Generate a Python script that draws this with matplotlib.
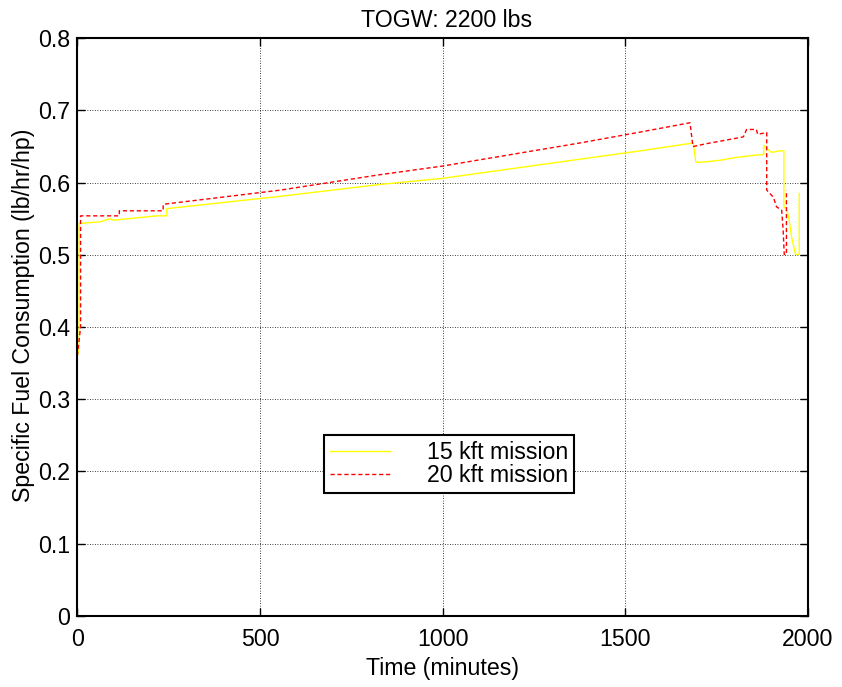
import matplotlib
matplotlib.use("Agg")
import matplotlib.pyplot as plt

plt.rcParams['font.family'] = ['Liberation Sans', 'DejaVu Sans']

# breakpoints (time in minutes, sfc in lb/hr/hp)
t15 = [0, 5, 5, 62, 89, 99, 217, 245, 245, 555, 828, 1000, 1376, 1540, 1686,
       1693, 1722, 1759, 1805, 1855, 1879, 1879, 1887, 1900, 1923, 1934,
       1934, 1941, 1948, 1955, 1961, 1966, 1976, 1976]
sfc15 = [0.36, 0.37, 0.5435, 0.5457, 0.550, 0.548, 0.554, 0.554, 0.564, 0.581,
         0.5975, 0.606, 0.6325, 0.644, 0.655, 0.628, 0.629, 0.631, 0.635,
         0.638, 0.639, 0.652, 0.647, 0.642, 0.644, 0.644, 0.566, 0.564,
         0.550, 0.525, 0.511, 0.5005, 0.5005, 0.585]

t20 = [0, 3, 9, 9, 115, 115, 235, 235, 555, 828, 1000, 1376, 1540, 1677,
       1685, 1722, 1823, 1832, 1859, 1862, 1873, 1887, 1887, 1905, 1914,
       1928, 1932, 1935, 1941, 1941]
sfc20 = [0.36, 0.373, 0.40, 0.554, 0.554, 0.561, 0.561, 0.570, 0.5896, 0.611,
         0.623, 0.655, 0.670, 0.683, 0.650, 0.654, 0.6634, 0.6737, 0.6737,
         0.667, 0.668, 0.6695, 0.5896, 0.580, 0.5665, 0.562, 0.534, 0.5005,
         0.5005, 0.5896]

fs = 16.7

fig = plt.figure(figsize=(8.42, 6.87), dpi=100)
ax = fig.add_axes([77.3 / 842, 1 - 615.7 / 687, (808 - 77.3) / 842, (615.7 - 38.3) / 687])

ax.plot(t15, sfc15, color='#ffff00', lw=1.0, label='15 kft mission')
ax.plot(t20, sfc20, color='#ff0000', lw=1.0, ls=(0, (3, 2)), label='20 kft mission')

ax.set_xlim(0, 2000)
ax.set_ylim(0, 0.8)
ax.set_xticks([0, 500, 1000, 1500, 2000])
ax.set_yticks([0, 0.1, 0.2, 0.3, 0.4, 0.5, 0.6, 0.7, 0.8])
ax.set_yticklabels(['0', '0.1', '0.2', '0.3', '0.4', '0.5', '0.6', '0.7', '0.8'])
ax.grid(True, color='black', ls=(0, (1, 2)), lw=0.6)
ax.tick_params(direction='in', length=6, width=1, top=True, right=True, labelsize=fs)
ax.tick_params(axis='x', pad=9)
ax.tick_params(axis='y', pad=5)
for s in ax.spines.values():
    s.set_linewidth(1.5)

ax.set_title('TOGW: 2200 lbs', fontsize=fs, pad=8, x=0.505)
ax.set_xlabel('Time (minutes)', fontsize=fs, labelpad=4)
ax.set_ylabel('Specific Fuel Consumption (lb/hr/hp)', fontsize=fs, labelpad=2, y=0.52)

leg = ax.legend(loc='upper left', bbox_to_anchor=(0.3376, 0.313), fontsize=fs,
                handlelength=2.6, handletextpad=1.6, labelspacing=0.0,
                borderpad=0.25, borderaxespad=0, fancybox=False, framealpha=1)
leg.get_frame().set_edgecolor('black')
leg.get_frame().set_linewidth(1.5)

fig.savefig('out.png', dpi=100)
